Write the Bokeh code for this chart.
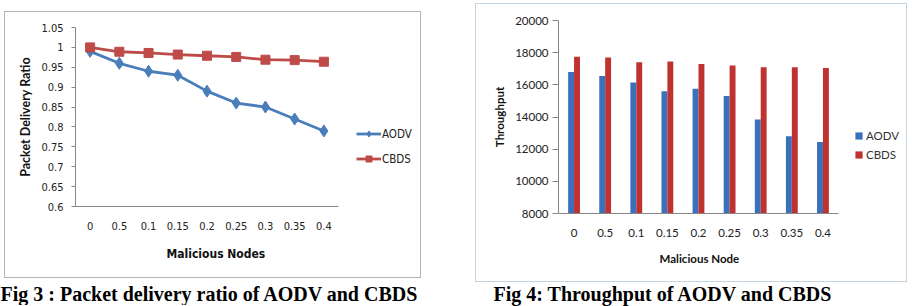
from bokeh.plotting import figure
from bokeh.models import Legend, LegendItem, FixedTicker, Range1d, Spacer, ColumnDataSource, Title
from bokeh.layouts import row, column
from bokeh.transform import dodge
from bokeh.embed import file_html
from bokeh.resources import INLINE

# ---------------- data ----------------
nodes = ["0", "0.5", "0.1", "0.15", "0.2", "0.25", "0.3", "0.35", "0.4"]

pdr_aodv = [0.99, 0.96, 0.94, 0.93, 0.89, 0.86, 0.85, 0.82, 0.79]
pdr_cbds = [1.0, 0.989, 0.986, 0.982, 0.979, 0.976, 0.969, 0.968, 0.964]
pdr_ticks = [0.6, 0.65, 0.7, 0.75, 0.8, 0.85, 0.9, 0.95, 1.0, 1.05]
pdr_tick_labels = ["0.6", "0.65", "0.7", "0.75", "0.8", "0.85", "0.9", "0.95", "1", "1.05"]

thr_aodv = [16800, 16550, 16150, 15600, 15750, 15300, 13850, 12800, 12450]
thr_cbds = [17750, 17700, 17400, 17450, 17300, 17200, 17100, 17100, 17050]
thr_ticks = [8000, 10000, 12000, 14000, 16000, 18000, 20000]
thr_tick_labels = ["8000", "10000", "12000", "14000", "16000", "18000", "20000"]

series_names = ["AODV", "CBDS"]
xlabel_left = "Malicious Nodes"
ylabel_left = "Packet Delivery Ratio"
xlabel_right = "Malicious Node"
ylabel_right = "Throughput"
caption_left = "Fig 3 : Packet delivery ratio of AODV and CBDS"
caption_right = "Fig 4: Throughput of AODV and CBDS"

# category positions (index of each category) and their labels
xi = list(range(len(nodes)))
x_overrides = dict(zip(xi, nodes))
n = len(nodes)

# ---------------- styles ----------------
BLUE_L = "#4a7ebb"
RED_L = "#be4b48"
BLUE_B = "#3b70bb"
RED_B = "#c0322f"
AXIS = "#868686"
NARROW = "DejaVu Sans Condensed, Liberation Sans Narrow, Roboto, sans-serif"
SANS = "Lato"

# ---------------- left: line chart ----------------
W1, H1 = 417, 267
L1, R1, T1, B1 = 70, 2, 15, 73
unit1 = 263 / n                      # pixel width of one category
fw1 = W1 - L1 - R1
p1 = figure(width=W1, height=H1, x_range=Range1d(-0.5, -0.5 + fw1 / unit1),
            y_range=Range1d(0.6, 1.05),
            output_backend="svg", toolbar_location=None,
            min_border_left=L1, min_border_right=R1, min_border_top=T1, min_border_bottom=B1)
p1.styles = {"border": "1px solid #b4b4b4", "box-sizing": "border-box"}
p1.grid.visible = False
p1.outline_line_color = None

l_a = p1.line(x=xi, y=pdr_aodv, line_color=BLUE_L, line_width=2.8)
s_a = p1.scatter(x=xi, y=pdr_aodv, marker="diamond", size=12, fill_color=BLUE_L, line_color=BLUE_L)
l_c = p1.line(x=xi, y=pdr_cbds, line_color=RED_L, line_width=2.8)
s_c = p1.scatter(x=xi, y=pdr_cbds, marker="square", size=9, fill_color=RED_L, line_color=RED_L)

for ax in (p1.xaxis[0], p1.yaxis[0]):
    ax.axis_line_color = AXIS
    ax.major_tick_line_color = AXIS
    ax.minor_tick_line_color = None
    ax.major_label_text_font = NARROW
    ax.major_label_text_font_size = "11px"
    ax.major_label_text_color = "#222222"
    ax.axis_label_text_font_style = "bold"
    ax.axis_label_text_color = "#111111"

p1.yaxis.ticker = FixedTicker(ticks=pdr_ticks)
p1.yaxis.major_label_overrides = dict(zip(pdr_ticks, pdr_tick_labels))
p1.yaxis.major_tick_out = 4
p1.yaxis.major_tick_in = 0
p1.yaxis.major_label_standoff = 8
p1.yaxis.axis_label = ylabel_left
p1.yaxis.axis_label_text_font = SANS
p1.yaxis.axis_label_text_font_size = "12.5px"
p1.yaxis.axis_label_standoff = 5

p1.xaxis.ticker = FixedTicker(ticks=xi)
p1.xaxis.major_label_overrides = x_overrides
p1.xaxis.bounds = (-0.5, n - 0.5)
p1.xaxis.major_tick_out = 0
p1.xaxis.major_tick_in = 0
p1.xaxis.major_label_standoff = 15

p1.add_layout(Title(text=xlabel_left, align="left", offset=91, standoff=24,
                    text_font=NARROW, text_font_size="12px", text_font_style="bold",
                    text_color="#111111"), "below")

leg1 = Legend(items=[LegendItem(label=series_names[0], renderers=[l_a, s_a]),
                     LegendItem(label=series_names[1], renderers=[l_c, s_c])],
              location=(281, 40), border_line_color=None, background_fill_alpha=0,
              padding=0, margin=0, spacing=10, glyph_width=25, glyph_height=15,
              label_height=15, label_standoff=1,
              label_text_font=NARROW, label_text_font_size="11.5px", label_text_color="#222222")
p1.add_layout(leg1)

cap1 = figure(width=421, height=25, title=caption_left, output_backend="svg",
              toolbar_location=None, min_border=0)
cap1.axis.visible = False
cap1.grid.visible = False
cap1.outline_line_color = None
cap1.title.text_font = "Liberation Serif"
cap1.title.text_font_size = "20px"
cap1.title.text_font_style = "bold"
cap1.title.text_color = "#000000"
cap1.title.align = "left"
cap1.title.offset = 0
cap1.title.standoff = 0

# ---------------- right: bar chart ----------------
W2, H2 = 432, 279
L2, R2, T2, B2 = 82, 4, 16, 70
unit2 = 280 / n
fw2 = W2 - L2 - R2
src = ColumnDataSource(dict(x=xi, aodv=thr_aodv, cbds=thr_cbds))
p2 = figure(width=W2, height=H2, x_range=Range1d(-0.5, -0.5 + fw2 / unit2),
            y_range=Range1d(8000, 20000),
            output_backend="svg", toolbar_location=None,
            min_border_left=L2, min_border_right=R2, min_border_top=T2, min_border_bottom=B2)
p2.styles = {"border": "1px solid #c5d3df", "box-sizing": "border-box"}
p2.grid.visible = False
p2.outline_line_color = None

b_a = p2.vbar(x=dodge("x", -0.095), top="aodv", width=0.19, source=src,
              fill_color=BLUE_B, line_color=None)
b_c = p2.vbar(x=dodge("x", 0.095), top="cbds", width=0.19, source=src,
              fill_color=RED_B, line_color=None)

for ax in (p2.xaxis[0], p2.yaxis[0]):
    ax.axis_line_color = AXIS
    ax.major_tick_line_color = AXIS
    ax.minor_tick_line_color = None
    ax.major_label_text_font = SANS
    ax.major_label_text_font_size = "11.5px"
    ax.major_label_text_color = "#222222"
    ax.axis_label_text_font = SANS
    ax.axis_label_text_font_size = "11.5px"
    ax.axis_label_text_font_style = "bold"
    ax.axis_label_text_color = "#111111"

p2.yaxis.ticker = FixedTicker(ticks=thr_ticks)
p2.yaxis.major_label_overrides = dict(zip(thr_ticks, thr_tick_labels))
p2.yaxis.major_tick_out = 6
p2.yaxis.major_tick_in = 0
p2.yaxis.major_label_standoff = 4
p2.yaxis.axis_label = ylabel_right
p2.yaxis.axis_label_standoff = 6

p2.xaxis.ticker = FixedTicker(ticks=xi)
p2.xaxis.major_label_overrides = x_overrides
p2.xaxis.bounds = (-0.5, n - 0.5)
p2.xaxis.major_tick_out = 0
p2.xaxis.major_tick_in = 0
p2.xaxis.major_label_standoff = 15

p2.add_layout(Title(text=xlabel_right, align="left", offset=101, standoff=21,
                    text_font=SANS, text_font_size="11.5px", text_font_style="bold",
                    text_color="#111111"), "below")

leg2 = Legend(items=[LegendItem(label=series_names[0], renderers=[b_a]),
                     LegendItem(label=series_names[1], renderers=[b_c])],
              location=(296, 52), border_line_color=None, background_fill_alpha=0,
              padding=0, margin=0, spacing=5, glyph_width=9, glyph_height=9,
              label_height=14, label_standoff=3,
              label_text_font=SANS, label_text_font_size="11.5px", label_text_color="#333333")
p2.add_layout(leg2)

cap2 = figure(width=486, height=22, title=caption_right, output_backend="svg",
              toolbar_location=None, min_border=0)
cap2.axis.visible = False
cap2.grid.visible = False
cap2.outline_line_color = None
cap2.title.text_font = "Liberation Serif"
cap2.title.text_font_size = "20px"
cap2.title.text_font_style = "bold"
cap2.title.text_color = "#000000"
cap2.title.align = "left"
cap2.title.offset = 72
cap2.title.standoff = 0

left_col = column(Spacer(width=1, height=11), row(Spacer(width=4, height=1), p1),
                  Spacer(width=1, height=2), cap1)
right_col = column(Spacer(width=1, height=3), row(Spacer(width=54, height=1), p2), cap2)
layout = row(left_col, right_col)
open("out.html", "w").write(file_html(layout, INLINE))
